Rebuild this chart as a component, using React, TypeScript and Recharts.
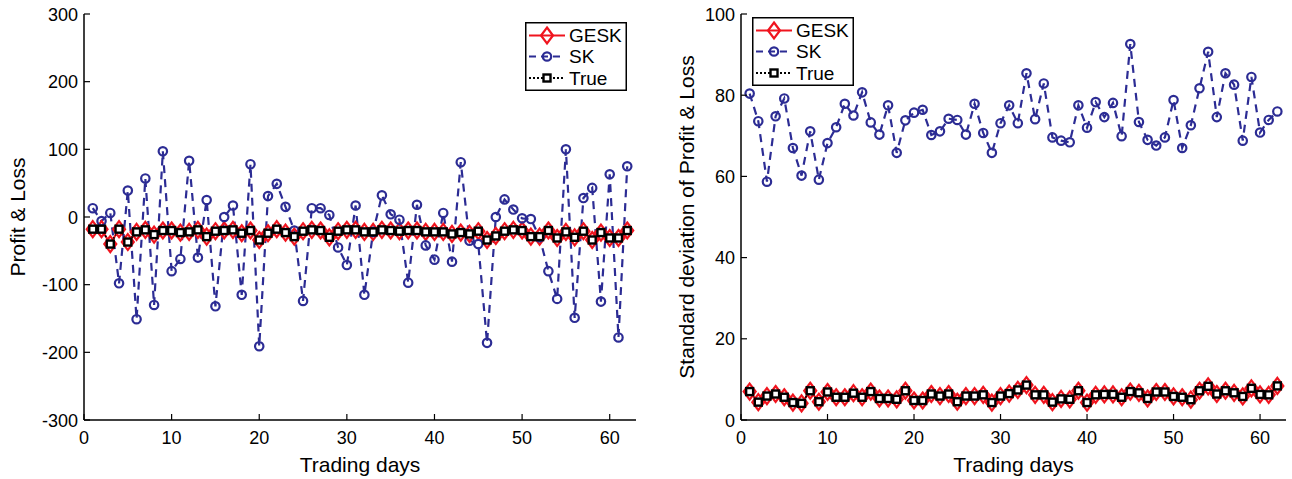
import React from 'react';
import { LineChart, Line, XAxis, YAxis, Legend } from 'recharts';

const FONT = '"Liberation Sans", Arial, Helvetica, sans-serif';

const DAYS = [1, 2, 3, 4, 5, 6, 7, 8, 9, 10, 11, 12, 13, 14, 15, 16, 17, 18, 19, 20, 21, 22, 23, 24, 25, 26, 27, 28, 29, 30, 31, 32, 33, 34, 35, 36, 37, 38, 39, 40, 41, 42, 43, 44, 45, 46, 47, 48, 49, 50, 51, 52, 53, 54, 55, 56, 57, 58, 59, 60, 61, 62];

const PL_SK = [13, -6, 6, -98, 39, -151, 57, -130, 97, -80, -62, 83, -60, 25, -132, 0, 17, -115, 78, -191, 31, 49, 15, -20, -124, 13, 13, 3, -45, -71, 17, -115, -22, 32, 4, -4, -97, 18, -42, -63, 6, -66, 81, -35, -40, -186, 0, 26, 11, -2, -3, -30, -80, -121, 100, -149, 28, 43, -125, 63, -178, 75];
const PL_TRUE = [-18, -18, -40, -18, -37, -22, -19, -26, -20, -20, -23, -22, -19, -29, -21, -20, -19, -24, -20, -34, -24, -18, -23, -29, -21, -19, -20, -30, -21, -19, -19, -22, -22, -19, -20, -21, -20, -20, -22, -22, -22, -25, -23, -25, -21, -34, -28, -21, -19, -20, -29, -29, -20, -31, -22, -30, -21, -34, -23, -31, -31, -20];
const PL_GESK = [-18, -18, -40, -18, -37, -22, -19, -26, -20, -20, -23, -22, -19, -29, -21, -20, -19, -24, -20, -34, -24, -18, -23, -29, -21, -19, -20, -30, -21, -19, -19, -22, -22, -19, -20, -21, -20, -20, -22, -22, -22, -25, -23, -25, -21, -34, -28, -21, -19, -20, -29, -29, -20, -31, -22, -30, -21, -34, -23, -31, -31, -20];

const SD_SK = [80.4, 73.6, 58.7, 74.8, 79.2, 67, 60.2, 71.1, 59.2, 68.2, 72.1, 77.9, 75, 80.7, 73.3, 70.3, 77.5, 65.8, 73.8, 75.7, 76.4, 70.2, 71.1, 74.2, 73.9, 70.3, 77.9, 70.7, 65.8, 73.1, 77.5, 73.1, 85.4, 74.1, 82.9, 69.6, 68.8, 68.4, 77.5, 72, 78.3, 74.6, 78.1, 69.9, 92.6, 73.4, 69, 67.6, 69.6, 78.8, 67, 72.6, 81.7, 90.7, 74.6, 85.4, 82.6, 68.8, 84.5, 70.8, 73.9, 76];
const SD_TRUE = [7.0, 4.4, 5.9, 6.4, 5.6, 4.3, 4.1, 7.2, 4.5, 6.9, 5.6, 5.6, 6.6, 5.6, 7.0, 5.3, 5.3, 5.1, 7.2, 4.8, 4.8, 6.4, 5.9, 6.4, 4.5, 5.9, 5.9, 6.2, 4.3, 5.9, 6.5, 7.4, 8.6, 6.2, 6.2, 4.4, 5.2, 5.1, 7.2, 4.3, 6.2, 6.3, 6.3, 5.6, 7.0, 6.7, 5.3, 6.9, 6.9, 5.8, 5.6, 5.0, 7.2, 8.3, 6.4, 7.2, 6.7, 5.8, 7.8, 6.3, 6.2, 8.4];
const SD_GESK = [7.0, 4.4, 5.9, 6.4, 5.6, 4.3, 4.1, 7.2, 4.5, 6.9, 5.6, 5.6, 6.6, 5.6, 7.0, 5.3, 5.3, 5.1, 7.2, 4.8, 4.8, 6.4, 5.9, 6.4, 4.5, 5.9, 5.9, 6.2, 4.3, 5.9, 6.5, 7.4, 8.6, 6.2, 6.2, 4.4, 5.2, 5.1, 7.2, 4.3, 6.2, 6.3, 6.3, 5.6, 7.0, 6.7, 5.3, 6.9, 6.9, 5.8, 5.6, 5.0, 7.2, 8.3, 6.4, 7.2, 6.7, 5.8, 7.8, 6.3, 6.2, 8.4];

const X_TICKS = [0, 10, 20, 30, 40, 50, 60];
const PL_TICKS = [-300, -200, -100, 0, 100, 200, 300];
const SD_TICKS = [0, 20, 40, 60, 80, 100];

const plData = DAYS.map((d, i) => ({ day: d, gesk: PL_GESK[i], sk: PL_SK[i], tru: PL_TRUE[i] }));
const sdData = DAYS.map((d, i) => ({ day: d, gesk: SD_GESK[i], sk: SD_SK[i], tru: SD_TRUE[i] }));

const RED = '#f0141e';
const BLUE = '#2c2c94';
const BLACK = '#000000';
const TICK_FS = 18;
const LABEL_FS = 21;

const Diamond = ({ cx, cy }: { cx: number; cy: number }) => (
  <polygon
    points={`${cx},${cy - 8} ${cx + 6},${cy} ${cx},${cy + 8} ${cx - 6},${cy}`}
    fill="none"
    stroke={RED}
    strokeWidth={2.2}
  />
);
const Circ = ({ cx, cy }: { cx: number; cy: number }) => (
  <circle cx={cx} cy={cy} r={4.2} fill="none" stroke={BLUE} strokeWidth={2.2} />
);
const Sq = ({ cx, cy }: { cx: number; cy: number }) => (
  <rect x={cx - 3.5} y={cy - 3.5} width={7} height={7} fill="#fff" stroke={BLACK} strokeWidth={2.4} />
);

const gDot = (p: any) => <Diamond key={`g${p.index}`} cx={p.cx} cy={p.cy} />;
const sDot = (p: any) => <Circ key={`s${p.index}`} cx={p.cx} cy={p.cy} />;
const tDot = (p: any) => <Sq key={`t${p.index}`} cx={p.cx} cy={p.cy} />;

const BottomTick = (props: any) => {
  const { x, y, payload } = props;
  return (
    <g>
      <line x1={x} x2={x} y1={y} y2={y - 6} stroke="#000" strokeWidth={1.2} />
      <text x={x} y={y + 24} textAnchor="middle" fontSize={TICK_FS} fontFamily={FONT} fill="#000">
        {payload.value}
      </text>
    </g>
  );
};
const TopTick = (props: any) => {
  const { x, y } = props;
  return <line x1={x} x2={x} y1={y} y2={y + 6} stroke="#000" strokeWidth={1.2} />;
};
const LeftTick = (props: any) => {
  const { x, y, payload } = props;
  return (
    <g>
      <line x1={x} x2={x + 6} y1={y} y2={y} stroke="#000" strokeWidth={1.2} />
      <text x={x - 6} y={y + 6.5} textAnchor="end" fontSize={TICK_FS} fontFamily={FONT} fill="#000">
        {payload.value}
      </text>
    </g>
  );
};
const RightTick = (props: any) => {
  const { x, y } = props;
  return <line x1={x} x2={x - 6} y1={y} y2={y} stroke="#000" strokeWidth={1.2} />;
};

const STYLE: Record<string, { color: string; dash?: string; marker: (cx: number, cy: number) => React.ReactNode }> = {
  GESK: { color: RED, marker: (cx, cy) => <Diamond cx={cx} cy={cy} /> },
  SK: { color: BLUE, dash: '7 5', marker: (cx, cy) => <Circ cx={cx} cy={cy} /> },
  True: { color: BLACK, dash: '2 2', marker: (cx, cy) => <Sq cx={cx} cy={cy} /> },
};

const LW = 102;
const LH = 69;

const LegendBox = ({ payload }: any) => {
  const rows = [13.5, 34.5, 56];
  const items = (payload || []).map((p: any) => p.value);
  const names = items.length ? items : ['GESK', 'SK', 'True'];
  return (
    <svg width={LW} height={LH} style={{ display: 'block' }}>
      <rect x={0.75} y={0.75} width={LW - 1.5} height={LH - 1.5} fill="#fff" stroke="#000" strokeWidth={1.5} />
      {names.map((n: string, i: number) => {
        const s = STYLE[n];
        const y = rows[i];
        return (
          <g key={n}>
            <line x1={4} x2={40} y1={y} y2={y} stroke={s.color} strokeWidth={n === 'True' ? 1.8 : 2.2} strokeDasharray={s.dash} />
            {s.marker(22, y)}
            <text x={44} y={y + 6.5} fontSize={19} fontFamily={FONT} fill="#000">
              {n}
            </text>
          </g>
        );
      })}
    </svg>
  );
};

const axisLine = { stroke: '#000', strokeWidth: 1.5 };

function Panel(props: {
  data: any[];
  width: number;
  yWidth: number;
  right: number;
  yDomain: [number, number];
  yTicks: number[];
  yLabel: string;
  yLabelX: number;
  legendLeft: number;
  legendTop: number;
}) {
  const { data, width, yWidth, right, yDomain, yTicks, yLabel, yLabelX, legendLeft, legendTop } = props;
  const top = 14;
  const plotBottom = 420;
  const midY = (top + plotBottom) / 2;
  return (
    <LineChart width={width} height={479} data={data} margin={{ top, right, bottom: 0, left: 0 }}>
      <XAxis
        xAxisId="b"
        dataKey="day"
        type="number"
        domain={[0, 63]}
        ticks={X_TICKS}
        interval={0}
        height={479 - plotBottom}
        tickSize={0}
        tickMargin={0}
        tickLine={false}
        axisLine={axisLine}
        tick={<BottomTick />}
        label={(lp: any) => (
          <text x={yWidth + (width - yWidth - right) / 2} y={472} textAnchor="middle" fontSize={LABEL_FS} fontFamily={FONT} fill="#000">
            Trading days
          </text>
        )}
      />
      <XAxis
        xAxisId="t"
        orientation="top"
        dataKey="day"
        type="number"
        domain={[0, 63]}
        ticks={X_TICKS}
        interval={0}
        height={0}
        tickSize={0}
        tickMargin={0}
        tickLine={false}
        axisLine={axisLine}
        tick={<TopTick />}
      />
      <YAxis
        yAxisId="l"
        type="number"
        domain={yDomain}
        ticks={yTicks}
        interval={0}
        width={yWidth}
        tickSize={0}
        tickMargin={0}
        tickLine={false}
        axisLine={axisLine}
        tick={<LeftTick />}
        label={(lp: any) => (
          <text
            x={yLabelX}
            y={midY}
            transform={`rotate(-90 ${yLabelX} ${midY})`}
            textAnchor="middle"
            dominantBaseline="central"
            fontSize={LABEL_FS}
            fontFamily={FONT}
            fill="#000"
          >
            {yLabel}
          </text>
        )}
      />
      <YAxis
        yAxisId="r"
        orientation="right"
        type="number"
        domain={yDomain}
        ticks={yTicks}
        interval={0}
        width={0}
        tickSize={0}
        tickMargin={0}
        tickLine={false}
        axisLine={axisLine}
        tick={<RightTick />}
      />
      <Legend
        layout="vertical"
        align="center"
        verticalAlign="middle"
        wrapperStyle={{ left: legendLeft, top: legendTop, width: LW, height: LH }}
        content={(p: any) => <LegendBox payload={p.payload} />}
      />
      <Line
        xAxisId="b"
        yAxisId="l"
        name="GESK"
        dataKey="gesk"
        type="linear"
        stroke={RED}
        strokeWidth={2}
        dot={gDot}
        activeDot={false}
        isAnimationActive={false}
      />
      <Line
        xAxisId="b"
        yAxisId="l"
        name="SK"
        dataKey="sk"
        type="linear"
        stroke={BLUE}
        strokeWidth={2.2}
        strokeDasharray="8 6"
        dot={sDot}
        activeDot={false}
        isAnimationActive={false}
      />
      <Line
        xAxisId="b"
        yAxisId="l"
        name="True"
        dataKey="tru"
        type="linear"
        stroke={BLACK}
        strokeWidth={1.8}
        strokeDasharray="2 2"
        dot={tDot}
        activeDot={false}
        isAnimationActive={false}
      />
    </LineChart>
  );
}

export default function App() {
  return (
    <div style={{ position: 'absolute', left: 0, top: 0, width: 1292, height: 479, background: '#fff', overflow: 'hidden' }}>
      <div style={{ position: 'absolute', left: 0, top: 0 }}>
        <Panel
          data={plData}
          width={640}
          yWidth={84}
          right={4}
          yDomain={[-300, 300]}
          yTicks={PL_TICKS}
          yLabel="Profit & Loss"
          yLabelX={17}
          legendLeft={525}
          legendTop={22}
        />
      </div>
      <div style={{ position: 'absolute', left: 645, top: 0 }}>
        <Panel
          data={sdData}
          width={647}
          yWidth={96}
          right={6}
          yDomain={[0, 100]}
          yTicks={SD_TICKS}
          yLabel="Standard deviation of Profit & Loss"
          yLabelX={41}
          legendLeft={107}
          legendTop={17}
        />
      </div>
    </div>
  );
}
